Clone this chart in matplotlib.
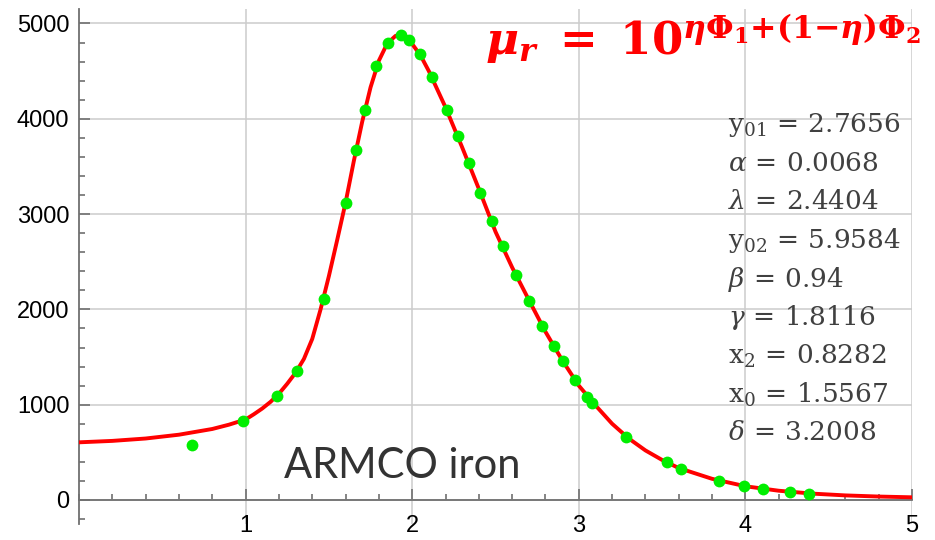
import numpy as np
import matplotlib.pyplot as plt
from matplotlib.ticker import MultipleLocator

# measured points (green)
data_x = [0.68, 0.985, 1.187, 1.307, 1.472, 1.60, 1.662, 1.716, 1.784, 1.854, 1.934, 1.98,
          2.046, 2.118, 2.208, 2.272, 2.338, 2.408, 2.478, 2.544, 2.626, 2.702, 2.78, 2.85,
          2.904, 2.978, 3.052, 3.082, 3.285, 3.531, 3.613, 3.843, 3.994, 4.106, 4.268, 4.384]
data_y = [576, 832, 1095, 1351, 2108, 3119, 3668, 4094, 4552, 4797, 4881, 4825,
          4678, 4437, 4087, 3822, 3535, 3224, 2930, 2664, 2360, 2091, 1829, 1612,
          1455, 1255, 1077, 1021, 662, 397, 323, 200, 144, 112, 81, 62]

# fitted curve (red)
curve_x = [0, 0.2, 0.4, 0.6, 0.8, 0.9, 1.0, 1.05, 1.1, 1.15, 1.2, 1.25, 1.3, 1.35, 1.4, 1.45,
           1.5, 1.55, 1.6, 1.65, 1.7, 1.75, 1.8, 1.85, 1.9, 1.93, 1.96, 2.0, 2.05, 2.1, 2.2,
           2.3, 2.4, 2.5, 2.6, 2.7, 2.8, 2.9, 3.0, 3.1, 3.2, 3.3, 3.4, 3.5, 3.6, 3.8, 4.0,
           4.2, 4.4, 4.6, 4.8, 5.0]
curve_y = [605, 620, 645, 685, 745, 790, 845, 900, 960, 1030, 1115, 1220, 1335, 1480, 1690, 2000,
           2350, 2730, 3120, 3560, 3970, 4330, 4610, 4790, 4870, 4885, 4870, 4785, 4665, 4500, 4120,
           3700, 3265, 2815, 2440, 2100, 1765, 1468, 1200, 993, 800, 645, 520, 420, 335, 222, 144,
           97, 67, 48, 36, 28]

param_labels = [r'$\mathrm{y}_{01}$', r'$\alpha$', r'$\lambda$', r'$\mathrm{y}_{02}$', r'$\beta$',
                r'$\gamma$', r'$\mathrm{x}_{2}$', r'$\mathrm{x}_{0}$', r'$\delta$']
param_values = ['2.7656', '0.0068', '2.4404', '5.9584', '0.94',
                '1.8116', '0.8282', '1.5567', '3.2008']

plt.rcParams['mathtext.fontset'] = 'dejavuserif'

fig = plt.figure(figsize=(9.35, 5.4), dpi=100)
ax = fig.add_axes([79 / 935, 1 - 523.8 / 540, 833 / 935, 514.6 / 540])

ax.plot(curve_x, curve_y, color='#ff0000', lw=2.8, zorder=3, solid_joinstyle='round')
ax.plot(data_x, data_y, 'o', color='#00ee00', ms=8.5, mec='none', zorder=4)

ax.set_xlim(0, 5)
ax.set_ylim(-250, 5150)
ax.spines['right'].set_visible(False)
ax.spines['top'].set_visible(False)
ax.spines['bottom'].set_position(('data', 0))
for s in ['left', 'bottom']:
    ax.spines[s].set_color('#707070')
    ax.spines[s].set_linewidth(1.3)

ax.set_xticks([1, 2, 3, 4, 5])
ax.set_yticks([0, 1000, 2000, 3000, 4000, 5000])
ax.xaxis.set_minor_locator(MultipleLocator(0.2))
ax.yaxis.set_minor_locator(MultipleLocator(200))
ax.tick_params(which='both', direction='in', color='#707070', width=1.2,
               labelsize=17, labelcolor='black')
ax.tick_params(which='major', length=8)
ax.tick_params(which='minor', length=4)
ax.tick_params(axis='x', pad=11)
ax.tick_params(axis='y', pad=7)
for lab in ax.get_xticklabels() + ax.get_yticklabels():
    lab.set_fontfamily('Liberation Sans')
ax.grid(True, which='major', color='#cccccc', lw=1.1, zorder=0)

fig.text(402 / 935, 1 - 466 / 540, 'ARMCO iron', fontsize=30, family='Lato',
         color='#333333', ha='center', va='center')

formula = (r'$\mathbfit{\mu}_{\mathbfit{r}}\ \mathbf{=}\ \mathbf{10}^{\mathbfit{\eta}\mathbf{\Phi}_{\mathbf{1}}'
           r'\mathbf{+(1}\mathbf{-}\mathbfit{\eta}\mathbf{)\Phi}_{\mathbf{2}}}$')
fig.text(485 / 935, 1 - 55 / 540, formula,
         fontsize=32.5, color='#ff0000', ha='left', va='baseline')

for i, (lab, val) in enumerate(zip(param_labels, param_values)):
    fig.text(728 / 935, 1 - (125 + i * 38.5) / 540, lab + r'$\,=\,$' + val,
             fontsize=19, family='DejaVu Serif', color='#404040', ha='left', va='center')

fig.savefig('out.png', dpi=100)
